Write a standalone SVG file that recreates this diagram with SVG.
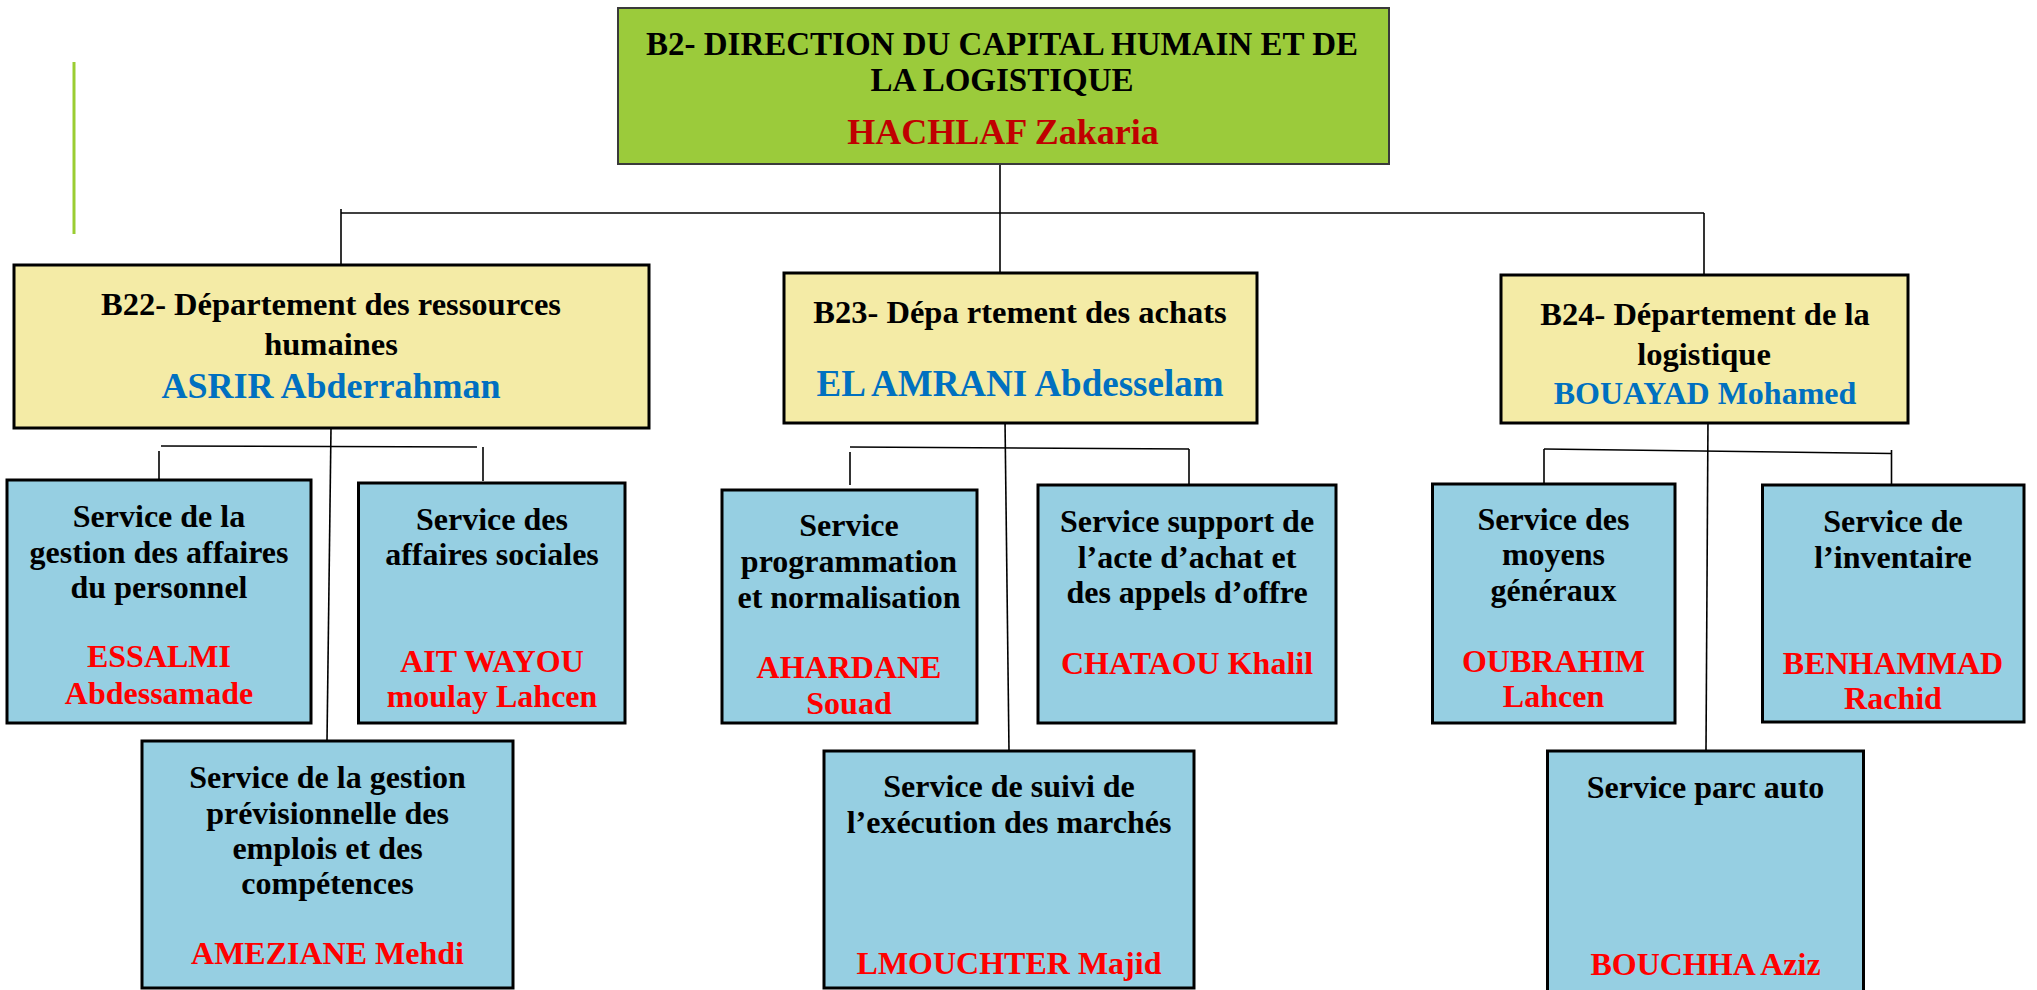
<svg xmlns="http://www.w3.org/2000/svg" width="2037" height="990" viewBox="0 0 2037 990">
<style>
text{font-family:"Liberation Serif","Times New Roman",serif;font-weight:bold;text-anchor:middle}
.t{font-size:33px;fill:#000}
.boss{font-size:36px;fill:#C00000}
.d{font-size:32.5px;fill:#000}
.dn{font-size:36px;fill:#0070C0}
.s{font-size:32px;fill:#000}
.n{font-size:32px;fill:#FF0000}
.top{fill:#9BCB3B;stroke:#3a3a3a;stroke-width:2}
.dep{fill:#F4EBA6;stroke:#000;stroke-width:3}
.svc{fill:#96CFE2;stroke:#000;stroke-width:3}
.c{stroke:#000;stroke-width:1.6;fill:none}
</style>
<rect width="2037" height="990" fill="#fff"/>
<line x1="74" y1="62" x2="74" y2="234" stroke="#9ACD32" stroke-width="3"/>
<g id="connectors">
<line class="c" x1="1000" y1="164" x2="1000" y2="277"/>
<line class="c" x1="341" y1="213" x2="1704" y2="213"/>
<line class="c" x1="341" y1="209" x2="341" y2="272"/>
<line class="c" x1="1704" y1="213" x2="1704" y2="275"/>
<line class="c" x1="331" y1="428" x2="327" y2="741"/>
<line class="c" x1="161" y1="446" x2="477" y2="447"/>
<line class="c" x1="159" y1="451" x2="159" y2="480"/>
<line class="c" x1="483" y1="447" x2="483" y2="481"/>
<line class="c" x1="1005" y1="420" x2="1009" y2="751"/>
<line class="c" x1="850" y1="447" x2="1189" y2="449"/>
<line class="c" x1="850" y1="452" x2="850" y2="485"/>
<line class="c" x1="1189" y1="449" x2="1189" y2="484"/>
<line class="c" x1="1708" y1="418" x2="1706" y2="751"/>
<line class="c" x1="1544" y1="449" x2="1891.5" y2="453.5"/>
<line class="c" x1="1544" y1="449" x2="1544" y2="483"/>
<line class="c" x1="1891.5" y1="450" x2="1891.5" y2="484"/>
</g>
<g id="b2">
<rect class="top" x="618" y="8" width="771" height="156"/>
<text class="t" x="1002" y="55">B2- DIRECTION DU CAPITAL HUMAIN ET DE</text>
<text class="t" x="1002" y="91">LA LOGISTIQUE</text>
<text class="boss" x="1003" y="144">HACHLAF Zakaria</text>
</g>
<g id="b22">
<rect class="dep" x="14" y="265" width="635" height="163"/>
<text class="d" x="331" y="315">B22- Département des ressources</text>
<text class="d" x="331" y="355">humaines</text>
<text class="dn" x="331" y="398">ASRIR Abderrahman</text>
</g>
<g id="b23">
<rect class="dep" x="784" y="273" width="473" height="150"/>
<text class="d" x="1020" y="323">B23- Dépa rtement des achats</text>
<text class="dn" x="1020" y="396" style="font-size:37px">EL AMRANI Abdesselam</text>
</g>
<g id="b24">
<rect class="dep" x="1501" y="275" width="407" height="148"/>
<text class="d" x="1705" y="325">B24- Département de la</text>
<text class="d" x="1704" y="365">logistique</text>
<text class="dn" x="1705" y="404" style="font-size:32px">BOUAYAD Mohamed</text>
</g>
<g id="s221">
<rect class="svc" x="7" y="480" width="304" height="243"/>
<text class="s" x="159" y="527">Service de la</text>
<text class="s" x="159" y="563">gestion des affaires</text>
<text class="s" x="159" y="598">du personnel</text>
<text class="n" x="159" y="667">ESSALMI</text>
<text class="n" x="159" y="704">Abdessamade</text>
</g>
<g id="s222">
<rect class="svc" x="358.5" y="483" width="266.5" height="240"/>
<text class="s" x="492" y="530">Service des</text>
<text class="s" x="492" y="565">affaires sociales</text>
<text class="n" x="492" y="672">AIT WAYOU</text>
<text class="n" x="492" y="707">moulay Lahcen</text>
</g>
<g id="s223">
<rect class="svc" x="142" y="741" width="371" height="247"/>
<text class="s" x="327.5" y="788">Service de la gestion</text>
<text class="s" x="327.5" y="823.5">prévisionnelle des</text>
<text class="s" x="327.5" y="858.5">emplois et des</text>
<text class="s" x="327.5" y="894">compétences</text>
<text class="n" x="327.5" y="964">AMEZIANE Mehdi</text>
</g>
<g id="s231">
<rect class="svc" x="722" y="490" width="255" height="233"/>
<text class="s" x="849" y="536">Service</text>
<text class="s" x="849" y="572">programmation</text>
<text class="s" x="849" y="607.5">et normalisation</text>
<text class="n" x="849" y="678">AHARDANE</text>
<text class="n" x="849" y="714">Souad</text>
</g>
<g id="s232">
<rect class="svc" x="1038" y="485" width="298" height="238"/>
<text class="s" x="1187" y="532">Service support de</text>
<text class="s" x="1187" y="567.5">l’acte d’achat et</text>
<text class="s" x="1187" y="603">des appels d’offre</text>
<text class="n" x="1187" y="674">CHATAOU Khalil</text>
</g>
<g id="s233">
<rect class="svc" x="824" y="751" width="370" height="237"/>
<text class="s" x="1009" y="797">Service de suivi de</text>
<text class="s" x="1009" y="832.5">l’exécution des marchés</text>
<text class="n" x="1009" y="973.5">LMOUCHTER Majid</text>
</g>
<g id="s241">
<rect class="svc" x="1432.5" y="484" width="242.5" height="239"/>
<text class="s" x="1553.5" y="530">Service des</text>
<text class="s" x="1553.5" y="565">moyens</text>
<text class="s" x="1553.5" y="600.5">généraux</text>
<text class="n" x="1553.5" y="672">OUBRAHIM</text>
<text class="n" x="1553.5" y="707">Lahcen</text>
</g>
<g id="s242">
<rect class="svc" x="1762.5" y="485" width="261.5" height="237"/>
<text class="s" x="1893" y="532">Service de</text>
<text class="s" x="1893" y="567.5">l’inventaire</text>
<text class="n" x="1893" y="674">BENHAMMAD</text>
<text class="n" x="1893" y="708.5">Rachid</text>
</g>
<g id="s243">
<rect class="svc" x="1547.5" y="751" width="316" height="242"/>
<text class="s" x="1705.5" y="798">Service parc auto</text>
<text class="n" x="1705.5" y="974.5">BOUCHHA Aziz</text>
</g>
</svg>
